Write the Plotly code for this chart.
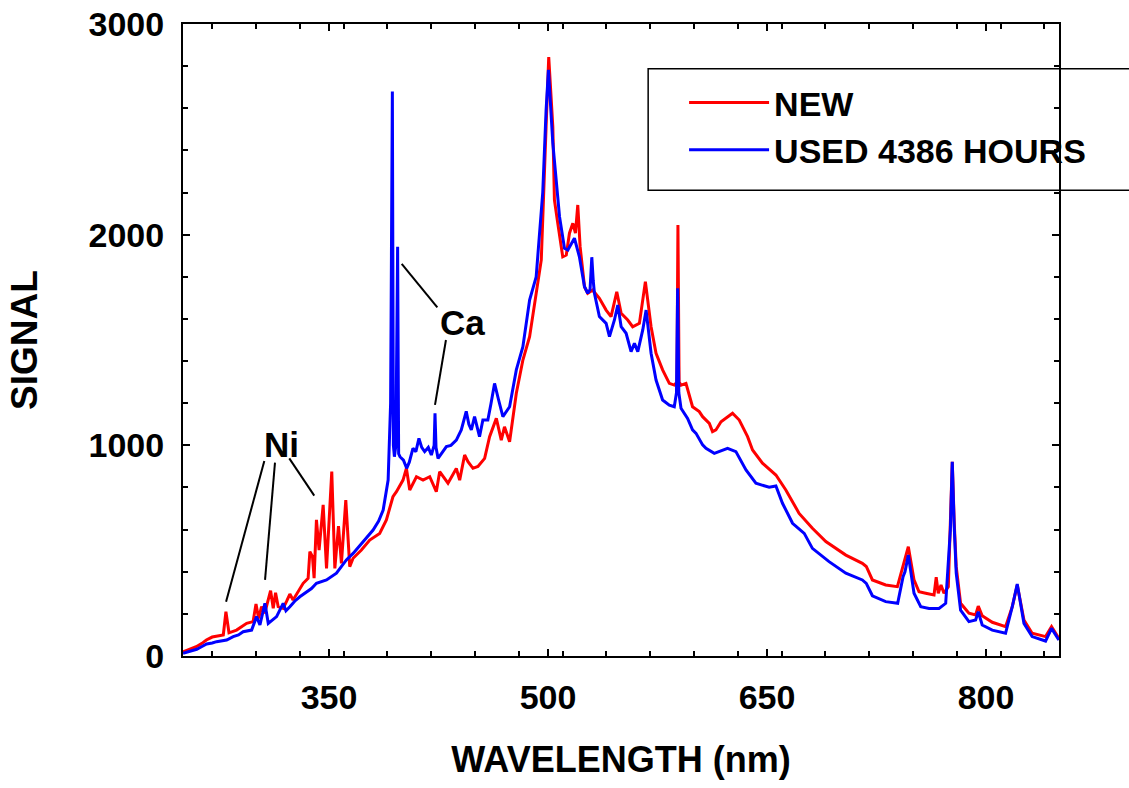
import plotly.graph_objects as go

# ---- data ----
new_wl = [250, 255, 259, 263, 266, 270, 274, 277.6, 279.4, 281.5, 286.7, 290, 293.6, 298, 300,
          301.8, 303.8, 306, 310, 311.8, 313.4, 315.2, 318.6, 321, 323.2, 325.4, 328.9, 332.3,
          335.7, 336.9, 338.7, 339.8, 341.4, 343.2, 346, 348.3, 351.9, 354, 356.5, 358.5, 361.5,
          364.2, 366.5, 372.2, 377.9, 384.7, 389.3, 393.8, 396.2, 400.7, 403, 405.3, 409.9, 414.4,
          419, 423.5, 425.8, 431.5, 437.2, 439.5, 442.9, 445.2, 448.6, 452, 456.6, 460, 464.6,
          468, 470.2, 473.7, 478.3, 482.8, 487.4, 491.9, 495.4, 498.7, 500.5, 503.3, 504.4, 506.7,
          510.1, 512.5, 514.7, 517, 518.8, 520.4, 522, 525, 527.2, 530.6, 535.2, 539.8, 543.2,
          547.1, 550.1, 554.6, 558, 562.6, 566.7, 570.6, 574, 578.5, 583.1, 586.5, 588.3, 589,
          589.8, 591.1, 594.5, 599, 603.6, 605.9, 610.5, 612.7, 615, 618.5, 621.9, 626.4, 631,
          636.7, 640.1, 646.9, 656.1, 662.9, 672, 681.1, 690.3, 704, 715.3, 718, 722.2, 731.3,
          739.3, 743.9, 746.8, 750.7, 754.1, 758.7, 764.4, 765.9, 767.3, 769.2, 771.2, 774.2,
          775.6, 776.9, 778.2, 779.6, 782.6, 788.3, 792.9, 794.7, 797.4, 804.3, 813.4, 818, 821.4,
          826, 831.6, 840.8, 844.9, 849.9]
new_sig = [20, 35, 44, 60, 76, 90, 95, 100, 210, 110, 123, 140, 155, 163, 247,
           178, 234, 203, 310, 226, 300, 234, 226, 260, 294, 266, 305, 345,
           369, 495, 471, 369, 646, 503, 717, 416, 875, 416, 617, 440, 740,
           424, 464, 503, 550, 582, 646, 756, 780, 835, 891, 788, 851, 835,
           851, 780, 875, 820, 890, 835, 954, 922, 891, 900, 938, 1041, 1128,
           1025, 1088, 1017, 1247, 1405, 1516, 1722, 1880, 2514, 2843, 2513, 2165, 2054,
           1895, 1903, 2007, 2054, 2007, 2141, 1943, 1753, 1722, 1737, 1698, 1642, 1611,
           1729, 1627, 1595, 1563, 1579, 1777, 1563, 1437, 1358, 1294, 1286, 1300, 2046,
           1300, 1286, 1294, 1183, 1160, 1136, 1104, 1065, 1073, 1112, 1128, 1152, 1120,
           1041, 978, 915, 859, 788, 677, 606, 543, 479, 440, 425, 361, 337,
           329, 448, 519, 361, 305, 298, 290, 374, 298, 337, 298, 329,
           600, 922, 640, 424, 250, 203, 195, 237, 191, 160, 139, 234, 337,
           171, 108, 92, 139, 84]

used_wl = [250, 255, 259.4, 263, 266.2, 270, 273, 279.9, 284.4, 288, 291.2, 297, 300.4, 302.7,
           306.1, 308.4, 311, 314.1, 318.6, 320.5, 323.2, 326.5, 330, 334.6, 338, 341.4, 348.3,
           355.1, 361.9, 366.5, 373.3, 380.2, 384, 387.1, 390.5, 392.2, 393.4, 394.1, 394.8,
           395.8, 397.0, 397.7, 398.6, 401, 403.2, 405, 407.5, 409.5, 411.6, 413.5, 415.5, 418,
           420.1, 422.0, 422.6, 423.3, 424.7, 427, 430.4, 433.5, 437.2, 440.6, 444, 445.8, 447.5,
           449.7, 453.1, 455.4, 458.8, 461, 463.4, 466, 469.1, 473.7, 478.3, 482.8, 487.4, 491.9,
           496.4, 498.7, 500.3, 503.3, 505.6, 507.9, 511.3, 513.6, 518.1, 521.5, 525, 527.2,
           528.8, 530, 531, 531.8, 535.2, 539.8, 542.1, 545.5, 547.8, 550.1, 553.5, 556.9, 559.2,
           561.5, 564.9, 567.2, 570.6, 574, 578.5, 583.1, 586.5, 588, 588.8, 589.6, 591.1, 595.6,
           599, 601.4, 605.9, 608.2, 613.9, 623, 628.7, 635.6, 642.4, 651.5, 656.1, 660.6, 667.5,
           675.5, 681.1, 692.5, 704, 715.3, 718, 722.2, 731.3, 739.5, 743.2, 744.5, 746.8, 750.7,
           755.3, 761, 767.8, 772.4, 775.6, 776.9, 778.2, 779.6, 782.6, 788.3, 792.9, 794.7,
           797.4, 804.3, 813.4, 818, 821.4, 826, 831.6, 840.8, 844.9, 849.9]
used_sig = [13, 22, 32, 45, 57, 62, 68, 76, 92, 100, 115, 123, 187, 147,
            250, 155, 170, 187, 250, 215, 234, 260, 281, 305, 320, 345, 361,
            393, 456, 487, 542, 598, 640, 693, 835, 1200, 2679, 1000, 946,
            1000, 1943, 960, 946, 930, 891, 920, 986, 970, 1033, 990, 970, 990,
            954, 1000, 1152, 990, 938, 960, 994, 1000, 1025, 1073, 1161, 1100, 1073,
            1136, 1041, 1120, 1120, 1200, 1294, 1220, 1136, 1183, 1358, 1468, 1690, 1800,
            2200, 2592, 2782, 2434, 2260, 2085, 1935, 1927, 1983, 1895, 1753, 1722,
            1740, 1893, 1780, 1722, 1611, 1579, 1516, 1595, 1666, 1563, 1532, 1445, 1484,
            1445, 1548, 1642, 1437, 1310, 1215, 1191, 1183, 1250, 1745, 1250, 1176, 1128,
            1073, 1057, 1002, 986, 962, 986, 970, 883, 820, 801, 807, 725, 630,
            582, 511, 448, 393, 361, 345, 286, 258, 250, 377, 400, 479, 298,
            234, 226, 226, 250, 600, 922, 620, 393, 218, 163, 171, 210,
            147, 123, 108, 234, 342, 155, 92, 71, 131, 76]

series_names = ["NEW", "USED 4386 HOURS"]
series_colors = ["#ff0000", "#0000ff"]

x_range = [250, 850]
y_range = [0, 3000]

FONT = "Liberation Sans"

fig = go.Figure()
fig.add_trace(go.Scatter(x=new_wl, y=new_sig, mode="lines", name=series_names[0],
                         line=dict(color=series_colors[0], width=3)))
fig.add_trace(go.Scatter(x=used_wl, y=used_sig, mode="lines", name=series_names[1],
                         line=dict(color=series_colors[1], width=3)))

# annotation leader lines (Ni, Ca)
leaders = [
    (305.7, 926, 279.5, 258),
    (313.0, 918, 306.2, 361),
    (322.8, 938, 339.9, 761),
    (399.8, 1861, 424.2, 1655),
    (430.1, 1500, 422.6, 1192),
]
for x0, y0, x1, y1 in leaders:
    fig.add_shape(type="line", xref="x", yref="y", x0=x0, y0=y0, x1=x1, y1=y1,
                  line=dict(color="black", width=2))

fig.add_annotation(x=317.8, y=1002, xref="x", yref="y", text="Ni", showarrow=False,
                   font=dict(family=FONT, size=35, color="black", weight="bold"))
fig.add_annotation(x=441.1, y=1581, xref="x", yref="y", text="Ca", showarrow=False,
                   font=dict(family=FONT, size=35, color="black", weight="bold"))

# legend frame
fig.add_shape(type="rect", xref="paper", yref="paper", x0=0.531, x1=1.1, y0=0.737, y1=0.929,
              line=dict(color="black", width=1.5), fillcolor="rgba(0,0,0,0)")

fig.update_layout(
    width=1129, height=788,
    margin=dict(l=183, r=70, t=24, b=132),
    paper_bgcolor="white", plot_bgcolor="white",
    showlegend=True,
    legend=dict(x=0.572, y=0.921, xanchor="left", yanchor="top",
                bgcolor="rgba(0,0,0,0)", borderwidth=0, itemwidth=80,
                font=dict(family=FONT, size=34, color="black", weight="bold")),
    xaxis=dict(range=x_range, tick0=350, dtick=150, showgrid=False, zeroline=False,
               automargin=False,
               showline=True, linecolor="black", linewidth=2, mirror="ticks",
               ticks="inside", ticklen=7, tickwidth=1.5, tickcolor="black",
               minor=dict(dtick=30, ticks="inside", ticklen=5, tickwidth=1.5, tickcolor="black"),
               tickfont=dict(family=FONT, size=34, color="black", weight="bold"),
               ticklabelstandoff=10,
               title=dict(text="WAVELENGTH (nm)", standoff=32,
                          font=dict(family=FONT, size=36, color="black", weight="bold"))),
    yaxis=dict(range=y_range, tick0=0, dtick=1000, showgrid=False, zeroline=False,
               automargin=False,
               showline=True, linecolor="black", linewidth=2, mirror="ticks",
               ticks="inside", ticklen=7, tickwidth=1.5, tickcolor="black",
               minor=dict(dtick=200, ticks="inside", ticklen=5, tickwidth=1.5, tickcolor="black"),
               tickfont=dict(family=FONT, size=34, color="black", weight="bold"),
               ticklabelstandoff=10,
               title=dict(text="SIGNAL", standoff=40,
                          font=dict(family=FONT, size=37, color="black", weight="bold"))),
)

fig.write_html("out.html", config={"displayModeBar": False},
               post_script="document.body.style.margin='0';document.body.style.padding='0';")
